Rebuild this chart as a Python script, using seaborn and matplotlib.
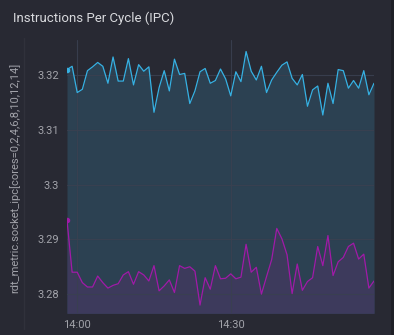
import numpy as np
import pandas as pd
import matplotlib
matplotlib.use("Agg")
import matplotlib.pyplot as plt
import matplotlib.dates as mdates
import seaborn as sns

# ---- data ----
title = "Instructions Per Cycle (IPC)"
ylabel = "rdt_metric.socket_ipc[cores=0,2,4,6,8,10,12,14]"
start_time = "2024-01-01 13:58:02"
n_points = 61
ytick_values = [3.28, 3.29, 3.30, 3.31, 3.32]
ytick_labels = ["3.28", "3.29", "3.3", "3.31", "3.32"]
xtick_times = ["2024-01-01 14:00:00", "2024-01-01 14:30:00"]
xtick_labels = ["14:00", "14:30"]

socket0_ipc = [
    3.3210, 3.3216, 3.3168, 3.3174, 3.3208, 3.3215, 3.3223, 3.3216, 3.3185, 3.3233,
    3.3189, 3.3189, 3.3230, 3.3182, 3.3219, 3.3207, 3.3215, 3.3132, 3.3177, 3.3208,
    3.3171, 3.3229, 3.3201, 3.3203, 3.3148, 3.3171, 3.3206, 3.3212, 3.3185, 3.3190,
    3.3211, 3.3193, 3.3162, 3.3206, 3.3188, 3.3243, 3.3207, 3.3191, 3.3216, 3.3168,
    3.3191, 3.3205, 3.3218, 3.3224, 3.3194, 3.3182, 3.3201, 3.3143, 3.3173, 3.3180,
    3.3127, 3.3185, 3.3148, 3.3210, 3.3208, 3.3176, 3.3190, 3.3176, 3.3208, 3.3164,
    3.3185,
]
socket1_ipc = [
    3.2935, 3.2840, 3.2840, 3.2821, 3.2813, 3.2813, 3.2833, 3.2821, 3.2811, 3.2816,
    3.2819, 3.2835, 3.2841, 3.2818, 3.2841, 3.2835, 3.2824, 3.2852, 3.2806, 3.2815,
    3.2826, 3.2803, 3.2852, 3.2847, 3.2850, 3.2842, 3.2780, 3.2830, 3.2809, 3.2852,
    3.2828, 3.2829, 3.2837, 3.2828, 3.2831, 3.2891, 3.2840, 3.2849, 3.2800, 3.2832,
    3.2863, 3.2920, 3.2901, 3.2872, 3.2801, 3.2855, 3.2807, 3.2823, 3.2830, 3.2887,
    3.2852, 3.2907, 3.2834, 3.2859, 3.2867, 3.2887, 3.2893, 3.2864, 3.2873, 3.2811,
    3.2824,
]

times = pd.date_range(start_time, periods=n_points, freq="60s")
df = pd.DataFrame({
    "time": np.concatenate([times, times]),
    "ipc": socket0_ipc + socket1_ipc,
    "series": ["socket0"] * n_points + ["socket1"] * n_points,
})

# ---- style ----
bg = "#282933"
blue = "#36b1e3"
purple = "#a11aa8"
blue_fill = "#2c4152"
purple_fill = "#3d3a5c"
grid_c = "#3a4050"
tick_c = "#a2a3aa"

sns.set_theme(style="dark")
plt.rcParams["font.family"] = ["Roboto", "DejaVu Sans"]

fig = plt.figure(figsize=(3.94, 3.35), dpi=100, facecolor=bg)
ax = fig.add_axes([67 / 394, 1 - 313.3 / 335, (374 - 67) / 394, (313.3 - 40) / 335])
ax.set_facecolor(bg)

ymin, ymax = 3.2765, 3.3264
ax.fill_between(times, socket0_ipc, ymin, color=blue_fill, lw=0, zorder=1)
ax.fill_between(times, socket1_ipc, ymin, color=purple_fill, lw=0, zorder=1.1)

sns.lineplot(data=df, x="time", y="ipc", hue="series",
             palette={"socket0": blue, "socket1": purple},
             linewidth=0.9, legend=False, ax=ax, zorder=3)
for line, c in zip(ax.lines, [blue, purple]):
    line.set_marker("o")
    line.set_markevery([0])
    line.set_markersize(3.2)
    line.set_markerfacecolor(c)
    line.set_markeredgecolor(c)

ax.set_xlim(times[0], times[-1])
ax.set_ylim(ymin, ymax)
ax.set_yticks(ytick_values)
ax.set_yticklabels(ytick_labels)
ax.set_xticks([pd.Timestamp(t) for t in xtick_times])
ax.set_xticklabels(xtick_labels)
ax.set_axisbelow("line")
ax.grid(True, color=grid_c, linewidth=0.8, alpha=0.9)
ax.tick_params(axis="both", colors=tick_c, labelsize=8, length=0, pad=5)
ax.tick_params(axis="y", pad=6)
for s in ax.spines.values():
    s.set_visible(False)
ax.set_xlabel("")
ax.set_ylabel("")

fig.text(15 / 394, 1 - 178 / 335, ylabel, rotation=90, ha="center", va="center",
         color=tick_c, fontsize=8)
fig.text(13 / 394, 1 - 18 / 335, title, ha="left", va="center",
         color="#d8d9dd", fontsize=9.5, fontweight="normal")
fig.add_artist(plt.Line2D([24 / 394, 24 / 394], [1 - 329 / 335, 1 - 38 / 335],
                          color="#30313b", lw=1))
fig.add_artist(plt.Line2D([392 / 394, 392 / 394], [0, 1], color="#1e1f26", lw=2))

fig.savefig("out.png", dpi=100, facecolor=bg)
